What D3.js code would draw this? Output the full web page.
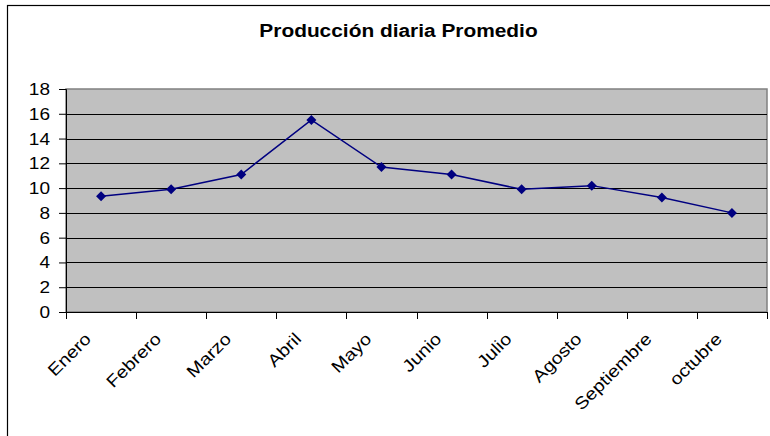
<!DOCTYPE html>
<html><head><meta charset="utf-8">
<script src="https://cdn.jsdelivr.net/npm/d3@7"></script>
<style>body{margin:0;background:#fff}svg{display:block}text{font-family:"Liberation Sans",Arial,sans-serif}</style>
</head><body>
<svg id="c" width="770" height="436"></svg>
<script>
const title = "Producción diaria Promedio";
const months = ["Enero","Febrero","Marzo","Abril","Mayo","Junio","Julio","Agosto","Septiembre","octubre"];
const values = [9.35, 9.9, 11.1, 15.5, 11.7, 11.1, 9.9, 10.2, 9.25, 8.0];
const yTicks = [0,2,4,6,8,10,12,14,16,18];

const svg = d3.select("#c");
const L = 66, R = 767, T = 89, B = 312;
const x = d3.scaleBand().domain(months).range([L, R]);
const y = d3.scaleLinear().domain([0, 18]).range([B, T]);

// outer border
svg.append("rect").attr("x", 7.5).attr("y", 5.5).attr("width", 800).attr("height", 500)
  .attr("fill", "none").attr("stroke", "#000").attr("stroke-width", 1.2);

// plot background
svg.append("rect").attr("x", L).attr("y", T).attr("width", R - L).attr("height", B - T)
  .attr("fill", "#c0c0c0").attr("stroke", "#808080").attr("stroke-width", 1.5);

// gridlines
svg.append("g").selectAll("line").data(yTicks.filter(d => d > 0 && d < 18)).join("line")
  .attr("x1", L).attr("x2", R).attr("y1", d => Math.round(y(d)) + 0.5).attr("y2", d => Math.round(y(d)) + 0.5)
  .attr("stroke", "#000").attr("stroke-width", 1);

// y axis
const ya = svg.append("g").attr("transform", `translate(${L},0)`)
  .call(d3.axisLeft(y).tickValues(yTicks).tickSize(7).tickPadding(8));
ya.select(".domain").attr("stroke", "#000");
ya.selectAll("text").attr("font-size", 17).attr("fill", "#000")
  .attr("x", null).attr("transform", "translate(-16,0) scale(1.12,1)");

// x axis
const xa = svg.append("g").attr("transform", `translate(0,${B})`)
  .call(d3.axisBottom(x).tickSize(0).tickFormat(""));
xa.select(".domain").attr("stroke", "#000");
const bounds = months.map(m => x(m)).concat([R]);
svg.append("g").selectAll("line").data(bounds).join("line")
  .attr("x1", d => Math.round(d) + 0.5).attr("x2", d => Math.round(d) + 0.5)
  .attr("y1", B).attr("y2", B + 7).attr("stroke", "#000");

svg.append("g").selectAll("text").data(months).join("text")
  .attr("transform", d => `translate(${x(d) + x.bandwidth() / 2 - 9},${B + 28}) rotate(-45) scale(1.16,1)`)
  .attr("text-anchor", "end").attr("font-size", 17).attr("fill", "#000").text(d => d);

// line
const cx = (d, i) => x(months[i]) + x.bandwidth() / 2;
svg.append("path").datum(values)
  .attr("d", d3.line().x((d, i) => cx(d, i)).y(d => y(d)))
  .attr("fill", "none").attr("stroke", "#000080").attr("stroke-width", 1.5);

svg.append("g").selectAll("path").data(values).join("path")
  .attr("d", d3.symbol(d3.symbolSquare, 50)())
  .attr("transform", (d, i) => `translate(${cx(d, i)},${y(d)}) rotate(45)`)
  .attr("fill", "#000080");

// title
svg.append("text").attr("transform", "translate(398.5,37) scale(1.16,1)").attr("text-anchor", "middle")
  .attr("font-size", 18).attr("font-weight", "bold").attr("fill", "#000").text(title);
</script>
</body></html>
